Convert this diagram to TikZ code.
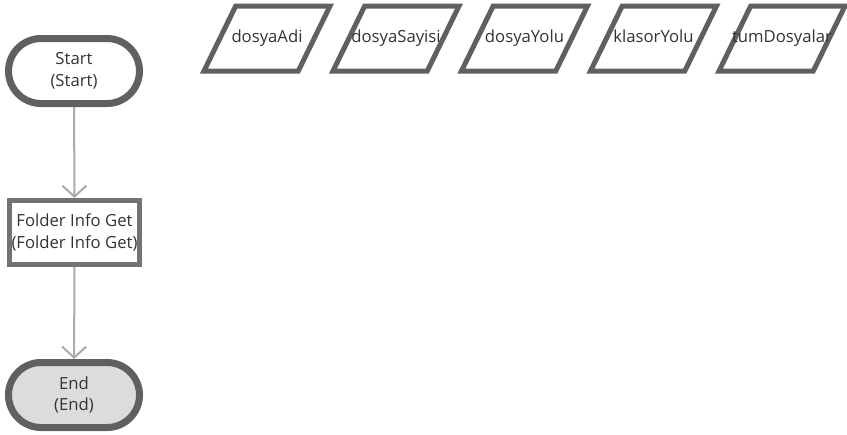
\documentclass[tikz,border=0pt]{standalone}
\usepackage{fontspec}
\setmainfont{Open Sans}
\usepackage{xcolor}
\usepackage{tikz}
\usetikzlibrary{arrows.meta,positioning,shapes.misc,shapes.geometric}
\definecolor{ink}{HTML}{333333}
\definecolor{rim}{HTML}{606060}
\definecolor{boxrim}{HTML}{737373}
\definecolor{flow}{HTML}{AAAAAA}
\definecolor{endfill}{HTML}{DCDCDC}
\newcommand{\vname}[1]{\makebox[0pt]{#1}\rule[-0.57cm]{0pt}{1.30cm}}

\begin{document}
\begin{tikzpicture}[
  term/.style={draw=rim, line width=0.14cm, rounded rectangle, align=center,
               minimum width=2.62cm, minimum height=1.30cm, inner sep=0pt,
               text=ink, font=\fontsize{9.5}{12.3}\selectfont},
  proc/.style={draw=boxrim, line width=0.10cm, rectangle, align=center,
               minimum width=2.60cm, minimum height=1.28cm, inner sep=0pt,
               text=ink, font=\fontsize{9.5}{12.3}\selectfont},
  var/.style={draw=rim, line width=0.10cm, trapezium,
              trapezium left angle=64, trapezium right angle=116,
              trapezium stretches body, minimum width=2.52cm,
              inner sep=0pt, text=ink,
              font=\fontsize{9.5}{12.3}\selectfont},
  >={Straight Barb[length=0.22cm, width=0.48cm]}]
\useasboundingbox (0,0) rectangle (16.94,-8.68);
\node[term] (start) at (1.48,-1.42) {Start\\(Start)};
\node[proc] (get) at (1.49,-4.65) {Folder Info Get\\(Folder Info Get)};
\node[term, fill=endfill] (end) at (1.48,-7.90) {End\\(End)};
\node[var] (adi) at (5.34,-0.77) {\vname{dosyaAdi}};
\node[var] (sayi) at (7.92,-0.77) {\vname{dosyaSayisi}};
\node[var] (yol) at (10.49,-0.77) {\vname{dosyaYolu}};
\node[var] (klasor) at (13.07,-0.77) {\vname{klasorYolu}};
\node[var] (tum) at (15.64,-0.77) {\vname{tumDosyalar}};
\draw[->, draw=flow, line width=0.04cm] (start) -- (get);
\draw[->, draw=flow, line width=0.04cm] (get) -- (end);
\end{tikzpicture}
\end{document}
